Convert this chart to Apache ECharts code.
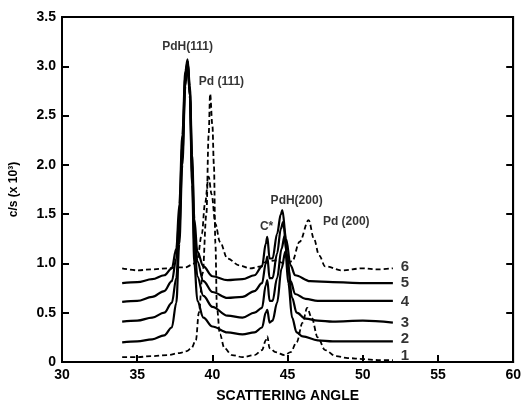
<!DOCTYPE html>
<html><head><meta charset="utf-8">
<script src="https://cdn.jsdelivr.net/npm/echarts@6/dist/echarts.min.js"></script>
<style>html,body{margin:0;padding:0;background:#fff}#c{width:524px;height:408px}</style>
</head><body><div id="c"></div>
<script>
var xTicks = [30, 35, 40, 45, 50, 55, 60];
var yTicks = [0, 0.5, 1.0, 1.5, 2.0, 2.5, 3.0, 3.5];

var curve1 = [[34,0.05],[35,0.05],[36,0.06],[37,0.07],[37.8,0.09],[38.3,0.11],[38.6,0.14],[38.9,0.22],[39.1,0.5],[39.35,0.9],[39.6,1.5],[39.75,2.3],[39.85,2.72],[40.0,2.4],[40.1,2.0],[40.2,1.2],[40.3,0.55],[40.5,0.28],[40.8,0.14],[41.3,0.07],[42,0.05],[42.8,0.07],[43.3,0.12],[43.55,0.22],[43.65,0.26],[43.8,0.14],[44.2,0.1],[44.8,0.07],[45.2,0.1],[45.6,0.2],[46.0,0.4],[46.3,0.55],[46.6,0.45],[47.0,0.25],[47.5,0.12],[48.2,0.06],[49,0.04],[50,0.03],[51,0.02],[52,0.02]];
var curve2 = [[34,0.2],[35,0.21],[36,0.23],[36.8,0.27],[37.3,0.35],[37.6,0.6],[37.8,1.2],[38.0,2.0],[38.2,2.8],[38.35,3.05],[38.5,2.7],[38.65,1.8],[38.8,1.0],[39.0,0.62],[39.4,0.45],[40,0.36],[41,0.3],[42,0.28],[42.8,0.3],[43.3,0.35],[43.55,0.5],[43.65,0.53],[43.8,0.4],[44.0,0.42],[44.3,0.6],[44.6,0.95],[44.85,1.12],[45.05,0.8],[45.3,0.45],[45.6,0.3],[46,0.26],[47,0.22],[48,0.21],[50,0.21],[52,0.21]];
var curve3 = [[34,0.41],[35,0.42],[36,0.45],[36.8,0.5],[37.3,0.6],[37.6,0.85],[37.8,1.35],[38.0,2.1],[38.2,2.85],[38.35,3.05],[38.5,2.7],[38.65,1.9],[38.8,1.2],[39.0,0.87],[39.4,0.67],[40,0.56],[41,0.47],[42,0.45],[42.8,0.5],[43.3,0.55],[43.55,0.78],[43.65,0.83],[43.8,0.62],[44.0,0.62],[44.3,0.85],[44.6,1.15],[44.8,1.28],[45.0,1.0],[45.3,0.65],[45.6,0.5],[46.2,0.44],[47,0.42],[48,0.41],[50,0.42],[52,0.4]];
var curve4 = [[34,0.61],[35,0.62],[36,0.66],[36.8,0.72],[37.3,0.82],[37.6,1.05],[37.8,1.5],[38.0,2.2],[38.2,2.9],[38.35,3.05],[38.5,2.75],[38.65,2.0],[38.8,1.35],[39.0,1.02],[39.4,0.82],[40,0.71],[41,0.65],[42,0.66],[42.8,0.72],[43.3,0.8],[43.55,1.0],[43.65,1.07],[43.8,0.85],[44.0,0.85],[44.3,1.1],[44.55,1.35],[44.7,1.42],[44.95,1.1],[45.2,0.82],[45.5,0.69],[46.2,0.64],[47,0.62],[48,0.62],[50,0.62],[52,0.62]];
var curve5 = [[34,0.8],[35,0.81],[36,0.84],[36.8,0.88],[37.3,0.95],[37.6,1.15],[37.8,1.6],[38.0,2.3],[38.2,2.95],[38.35,3.07],[38.5,2.8],[38.65,2.1],[38.8,1.45],[39.0,1.12],[39.4,0.97],[40,0.87],[41,0.83],[42,0.84],[42.8,0.88],[43.3,0.97],[43.55,1.2],[43.65,1.27],[43.8,1.05],[44.0,1.05],[44.3,1.3],[44.55,1.5],[44.65,1.54],[44.9,1.25],[45.2,0.98],[45.5,0.88],[46.5,0.82],[48,0.81],[50,0.8],[52,0.8]];
var curve6 = [[34,0.95],[35,0.93],[36,0.94],[37,0.95],[37.6,0.96],[38.2,0.96],[38.7,0.99],[39.0,1.05],[39.3,1.3],[39.5,1.6],[39.75,1.88],[39.95,1.7],[40.2,1.4],[40.5,1.22],[41.0,1.05],[41.8,0.98],[42.5,0.95],[43.2,0.97],[43.6,1.02],[44.2,1.03],[44.8,1.0],[45.3,1.02],[45.8,1.22],[46.4,1.44],[46.75,1.25],[47.1,1.08],[47.5,0.97],[48.6,0.93],[50,0.95],[51,0.94],[52,0.95]];

var peakLabelText = ['PdH(111)', 'Pd (111)', 'PdH(200)', 'Pd (200)', 'C*'];
var peakLabelX = [38.35, 40.6, 45.6, 48.9, 43.6];
var peakLabelY = [3.2, 2.84, 1.64, 1.42, 1.37];

var curveNames = ['1', '2', '3', '4', '5', '6'];
var curveNameY = [0.06, 0.23, 0.40, 0.61, 0.80, 0.97];
var curveNameX = 52.8;

var FONT = 'Liberation Sans';
var chart = echarts.init(document.getElementById('c'), null, {renderer: 'canvas'});

function lineSeries(data, dashed) {
  return {
    type: 'line', data: data, xAxisIndex: 0, yAxisIndex: 0,
    symbol: 'none', smooth: 0.35, smoothMonotone: 'x',
    lineStyle: {color: '#000', width: dashed ? 1.8 : 2.2, type: dashed ? [5, 3] : 'solid'},
    z: 3, silent: true
  };
}

var annoData = peakLabelText.map(function (t, i) { return [peakLabelX[i], peakLabelY[i], t]; });
var numData = curveNames.map(function (t, i) { return [curveNameX, curveNameY[i], t]; });

var axisTextStyle = {color: '#000', fontFamily: FONT, fontWeight: 'bold', fontSize: 14};

chart.setOption({
  animation: false,
  backgroundColor: '#fff',
  grid: {left: 61, right: 8, top: 17, bottom: 44, show: true, borderColor: '#000', borderWidth: 1.8, backgroundColor: 'transparent'},
  xAxis: [{
    type: 'value', min: 30, max: 60, interval: 5, position: 'bottom',
    axisLine: {show: true, onZero: false, lineStyle: {color: '#000', width: 2}},
    axisTick: {show: true, inside: true, length: 7, lineStyle: {color: '#000', width: 2}},
    axisLabel: Object.assign({margin: 6}, axisTextStyle),
    splitLine: {show: false},
    name: 'SCATTERING ANGLE', nameLocation: 'middle', nameGap: 27,
    nameTextStyle: {color: '#000', fontFamily: FONT, fontWeight: 'bold', fontSize: 14}
  }],
  yAxis: [{
    type: 'value', min: 0, max: 3.5, interval: 0.5, position: 'left',
    axisLine: {show: true, onZero: false, lineStyle: {color: '#000', width: 2}},
    axisTick: {show: true, inside: true, length: 7, lineStyle: {color: '#000', width: 2}},
    axisLabel: Object.assign({margin: 6, formatter: function (v) { return v === 0 ? '0' : v.toFixed(1); }}, axisTextStyle),
    splitLine: {show: false},
    name: 'c/s (x 10³)', nameLocation: 'middle', nameGap: 42, nameRotate: 90,
    nameTextStyle: {color: '#000', fontFamily: FONT, fontWeight: 'bold', fontSize: 12}
  }, {
    type: 'value', min: 0, max: 3.5, interval: 0.5, position: 'right', show: true,
    axisLine: {show: true, onZero: false, lineStyle: {color: '#000', width: 2}},
    axisTick: {show: true, inside: true, length: 7, lineStyle: {color: '#000', width: 2}},
    axisLabel: {show: false}, splitLine: {show: false}
  }],
  series: [
    lineSeries(curve1, true),
    lineSeries(curve2, false),
    lineSeries(curve3, false),
    lineSeries(curve4, false),
    lineSeries(curve5, false),
    lineSeries(curve6, true),
    {
      type: 'scatter', data: annoData, symbolSize: 0, silent: true, z: 5,
      label: {show: true, position: 'inside', formatter: function (p) { return p.data[2]; },
        color: '#000', fontFamily: FONT, fontWeight: 'bold', fontSize: 12}
    },
    {
      type: 'scatter', data: numData, symbolSize: 0, silent: true, z: 5,
      label: {show: true, position: 'inside', formatter: function (p) { return p.data[2]; },
        color: '#000', fontFamily: FONT, fontWeight: 'bold', fontSize: 15}
    }
  ]
});
</script></body></html>
